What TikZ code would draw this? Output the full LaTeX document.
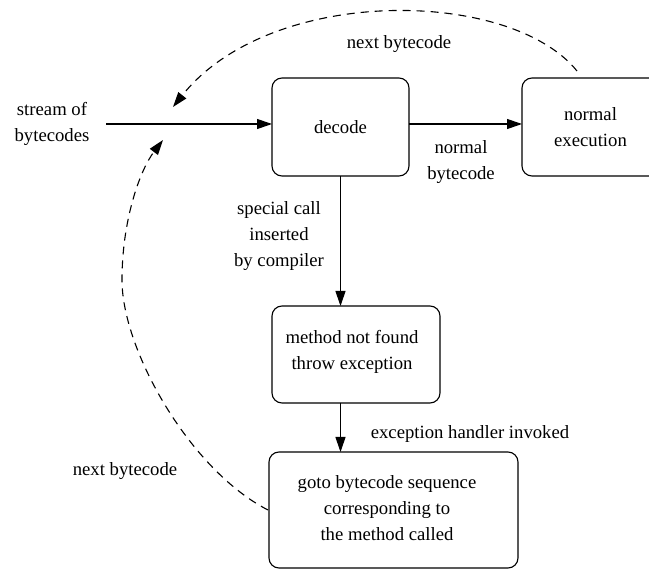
\documentclass[tikz,border=0pt]{standalone}
\usepackage{fontspec}
\setmainfont{Liberation Serif}
\usetikzlibrary{arrows.meta}
\begin{document}
\begin{tikzpicture}[x=1pt,y=-1pt,
  font=\fontsize{18.7}{26}\selectfont,
  every node/.style={inner sep=0pt,outer sep=0pt},
  box/.style={draw,line width=1.1pt,rounded corners=10pt,align=center},
  lbl/.style={align=center},
  flow/.style={line width=1.1pt,-{Triangle[length=15pt,width=10pt]}},
  back/.style={flow,dash pattern=on 8pt off 6pt}]
\clip (0,0) rectangle (649,569);

% boxes
\node[box,minimum width=137pt,minimum height=98pt] (decode) at (340.5,127) {decode};
\node[box,minimum width=137pt,minimum height=98pt] (exec) at (590.5,127) {normal\\execution};
\node[box,minimum width=168pt,minimum height=97pt] (method) at (356,354.5) {};
\node[lbl] (methodtxt) at (352,352) {method not found\\throw exception};
\node[box,minimum width=249pt,minimum height=116pt] (goto) at (393.5,510) {};
\node[lbl] (gototxt) at (387,508.5) {goto bytecode sequence\\corresponding to\\the method called};

% free text
\node[lbl] (stream) at (52,124) {stream of\\bytecodes};
\node[lbl] (lnormal) at (461,162) {normal\\bytecode};
\node[lbl] (lspecial) at (279,236) {special call\\inserted\\by compiler};
\node[lbl] (lexcept) at (470,434) {exception handler invoked};
\node[lbl] (lnexttop) at (399,44) {next bytecode};
\node[lbl] (lnextbot) at (125,471) {next bytecode};

% connector end points
\coordinate (in) at (106,124);
\coordinate (topstart) at (577,71);
\coordinate (toptip) at (173,107);
\coordinate (botstart) at (268,510);
\coordinate (botmid) at (122,280);
\coordinate (bottip) at (163,140);

% forward flow
\draw[flow] (in) -- (in -| decode.west);
\draw[flow] (in -| decode.east) -- (in -| exec.west);
\draw[flow] (decode.south) -- (decode.south |- method.north);
\draw[flow] (decode.south |- method.south) -- (decode.south |- goto.north);

% back to the stream
\draw[back] (topstart) .. controls (510,-12) and (270,-15) .. (toptip);
\draw[back] (botstart) .. controls (190,470) and (122,350) .. (botmid)
                       .. controls (122,220) and (140,170) .. (bottip);
\end{tikzpicture}
\end{document}
